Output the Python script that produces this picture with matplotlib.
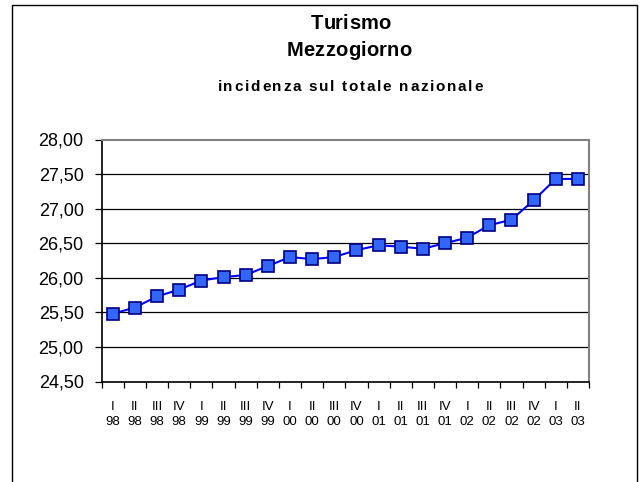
import matplotlib
matplotlib.use("Agg")
import matplotlib.pyplot as plt
from matplotlib.patches import Rectangle
from matplotlib.font_manager import FontProperties
import numpy as np

# quarterly series, share of national total (%)
quarters = ["I", "II", "III", "IV", "I", "II", "III", "IV", "I", "II", "III",
            "IV", "I", "II", "III", "IV", "I", "II", "III", "IV", "I", "II"]
years = ["98", "98", "98", "98", "99", "99", "99", "99", "00", "00", "00",
         "00", "01", "01", "01", "01", "02", "02", "02", "02", "03", "03"]
values = [25.48, 25.57, 25.73, 25.83, 25.96, 26.01, 26.04, 26.17, 26.30, 26.27,
          26.30, 26.40, 26.47, 26.45, 26.42, 26.50, 26.58, 26.76, 26.84, 27.12,
          27.43, 27.43]
y_ticks = [24.5, 25.0, 25.5, 26.0, 26.5, 27.0, 27.5, 28.0]

plt.rcParams["font.family"] = ["Liberation Sans", "DejaVu Sans"]

W, H, DPI = 642, 482, 100
fig = plt.figure(figsize=(W / DPI, H / DPI), dpi=DPI)
ax = fig.add_axes([101.7 / W, 1 - 381.5 / H, 487.3 / W, 242 / H])

# outer chart frame (bottom edge runs off the image)
fig.patches.append(Rectangle((12 / W, -0.1), 625 / W, 1 - 5 / H + 0.1,
                             transform=fig.transFigure, fill=False,
                             edgecolor="black", linewidth=1.0))

x = np.arange(len(values))
ax.plot(x, values, color="#0000FF", linewidth=1.5, marker="s", markersize=9,
        markerfacecolor="#3366FF", markeredgecolor="#000080",
        markeredgewidth=1.2, zorder=3)

ax.set_xlim(-0.5, len(values) - 0.5)
ax.set_ylim(24.5, 28.0)

ax.set_yticks(y_ticks)
ax.set_yticklabels([f"{v:.2f}".replace(".", ",") for v in y_ticks], fontsize=13)
for v in y_ticks[1:-1]:
    ax.axhline(v, color="black", linewidth=0.9, zorder=1)

ax.set_xticks(x)
ax.set_xticklabels([f"{q}\n{yy}" for q, yy in zip(quarters, years)],
                   fontsize=9.5, linespacing=1.35)
ax.set_xticks(np.arange(-0.5, len(values)), minor=True)
ax.tick_params(axis="x", which="major", length=0, pad=14)
ax.tick_params(axis="x", which="minor", length=4, width=0.9, direction="out")
ax.tick_params(axis="y", length=5, width=0.9, direction="out", pad=8)

for side in ["left", "bottom"]:
    ax.spines[side].set_color("black")
    ax.spines[side].set_linewidth(1.2)
for side in ["top", "right"]:
    ax.spines[side].set_color("#808080")
    ax.spines[side].set_linewidth(1.5)

renderer = fig.canvas.get_renderer()


def text_w(s, fp):
    return renderer.get_text_width_height_descent(s, fp, ismath=False)[0]


def spaced_text(xc, y_base, s, size, track):
    # title text in the original is letter-spaced, place glyph by glyph
    fp = FontProperties(family="Liberation Sans", weight="bold", size=size)
    wx = text_w("x", fp)
    lefts = [text_w(s[:i] + "x", fp) - wx for i in range(len(s))]
    lefts = [l + i * track for i, l in enumerate(lefts)]
    total = text_w(s, fp) + track * (len(s) - 1)
    x0 = xc - total / 2
    for ch, l in zip(s, lefts):
        if ch != " ":
            fig.text((x0 + l) / W, 1 - y_base / H, ch, ha="left",
                     va="baseline", fontproperties=fp)


spaced_text(351, 29, "Turismo", 14.5, 0.3)
spaced_text(349, 56, "Mezzogiorno", 14.5, 0.3)
spaced_text(350, 91, "incidenza sul totale nazionale", 11, 1.7)

fig.savefig("out.png", dpi=DPI)
